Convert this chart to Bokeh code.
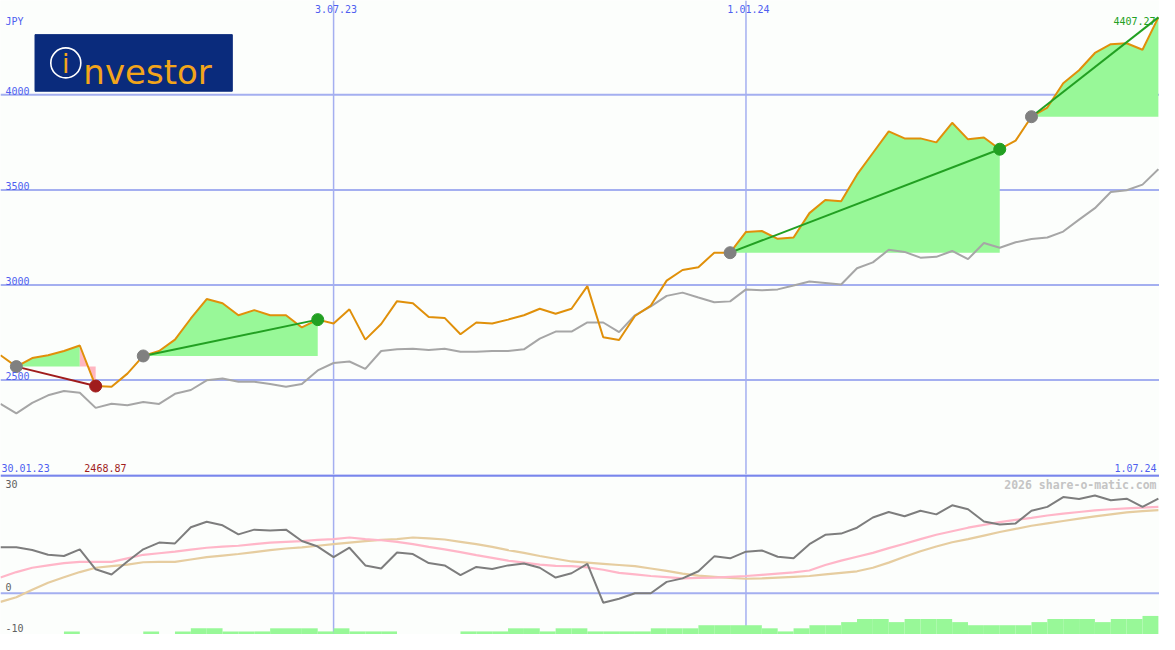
import pandas as pd
from datetime import timedelta
from bokeh.plotting import figure
from bokeh.layouts import column
from bokeh.models import Span, Label, Range1d
from bokeh.embed import file_html
from bokeh.resources import INLINE

# ---------------- data ----------------
dates = list(pd.date_range("2023-02-06", periods=74, freq="7D").to_pydatetime())

price = [2631, 2571, 2616, 2631, 2653, 2682, 2468.87, 2465, 2534, 2627,
         2653, 2713, 2824, 2926, 2904, 2841, 2868, 2841, 2841, 2777,
         2818, 2798, 2872, 2713, 2795, 2915, 2904, 2832, 2827, 2741,
         2803, 2798, 2818, 2841, 2875, 2849, 2875, 2994, 2725, 2711,
         2837, 2892, 3023, 3079, 3093, 3170, 3170, 3279, 3284, 3243,
         3250, 3378, 3447, 3441, 3580, 3694, 3808, 3771, 3771, 3750,
         3853, 3766, 3776, 3714, 3759, 3885, 3933, 4061, 4129, 4220,
         4266, 4271, 4237, 4407.27]

bench = [2375, 2325, 2380, 2420, 2443, 2434, 2354, 2376, 2368, 2385,
         2375, 2428, 2448, 2499, 2508, 2491, 2491, 2479, 2465, 2479,
         2551, 2590, 2598, 2559, 2653, 2662, 2665, 2658, 2665, 2649,
         2649, 2653, 2653, 2662, 2718, 2755, 2755, 2803, 2803, 2752,
         2841, 2888, 2943, 2960, 2934, 2909, 2914, 2977, 2972, 2977,
         2997, 3018, 3011, 3003, 3088, 3119, 3185, 3174, 3144, 3148,
         3179, 3136, 3221, 3196, 3225, 3242, 3250, 3281, 3344, 3404,
         3489, 3498, 3528, 3609]

osc = [11.7, 11.7, 11.0, 9.8, 9.5, 11.2, 6.1, 4.8, 8.1, 11.2,
       12.9, 12.7, 16.8, 18.2, 17.3, 15.0, 16.2, 16.0, 16.2, 13.3,
       11.9, 9.2, 11.6, 7.1, 6.3, 10.4, 10.0, 7.7, 7.1, 4.6,
       6.7, 6.2, 7.1, 7.6, 6.5, 4.0, 5.1, 7.5, -2.4, -1.4,
       0.0, 0.0, 2.9, 3.8, 5.6, 9.4, 8.9, 10.6, 10.9, 9.3,
       8.9, 12.5, 14.9, 15.2, 16.7, 19.3, 20.7, 19.6, 21.0, 20.1,
       22.4, 21.4, 18.3, 17.5, 17.8, 21.0, 22.0, 24.5, 24.0, 24.9,
       23.7, 24.1, 22.0, 24.1]

osc_avg_fast = [4.0, 5.4, 6.5, 7.1, 7.7, 8.0, 8.0, 8.0, 8.9, 9.8,
                10.2, 10.6, 11.1, 11.6, 11.9, 12.1, 12.5, 12.9, 13.1, 13.3,
                13.6, 13.8, 14.2, 13.8, 13.5, 13.1, 12.5, 11.8, 11.2, 10.5,
                9.7, 9.0, 8.3, 7.8, 7.3, 7.0, 6.9, 6.6, 6.0, 5.2,
                4.8, 4.4, 4.1, 3.8, 3.9, 4.0, 4.2, 4.4, 4.7, 5.0,
                5.3, 5.8, 7.2, 8.3, 9.3, 10.3, 11.5, 12.6, 13.8, 14.9,
                15.8, 16.7, 17.4, 18.1, 18.7, 19.2, 19.8, 20.3, 20.7, 21.1,
                21.4, 21.6, 21.8, 22.0]

osc_avg_slow = [-2.2, -1.0, 0.9, 2.7, 4.1, 5.4, 6.5, 6.9, 7.3, 7.9,
                8.0, 8.0, 8.6, 9.2, 9.6, 10.0, 10.5, 11.0, 11.4, 11.7,
                12.1, 12.5, 12.9, 13.3, 13.6, 13.8, 14.2, 14.0, 13.7, 13.1,
                12.5, 11.8, 11.0, 10.3, 9.5, 8.8, 8.1, 7.8, 7.5, 7.2,
                6.9, 6.3, 5.7, 5.0, 4.5, 4.2, 3.9, 3.7, 3.8, 4.0,
                4.2, 4.4, 4.8, 5.2, 5.6, 6.5, 7.8, 9.3, 10.7, 11.9,
                13.0, 13.8, 14.7, 15.6, 16.4, 17.2, 17.8, 18.4, 19.0, 19.6,
                20.1, 20.6, 20.9, 21.2]

volume = [0, 0, 0, 0, 1, 0, 0, 0, 0, 1,
          0, 1, 2, 2, 1, 1, 1, 2, 2, 2,
          1, 2, 1, 1, 1, 0, 0, 0, 0, 1,
          1, 1, 2, 2, 1, 2, 2, 1, 1, 1,
          1, 2, 2, 2, 3, 3, 3, 3, 2, 1,
          2, 3, 3, 4, 5, 5, 4, 5, 5, 5,
          4, 3, 3, 3, 3, 4, 5, 5, 5, 4,
          5, 5, 6]

buy_idx = [1, 9, 46, 65]
sell_idx = [6, 20, 63, None]   # None = still open

price_levels = [2500, 3000, 3500, 4000]
price_level_labels = ["2500", "3000", "3500", "4000"]
osc_levels = [0]
date_lines = ["2023-07-03", "2024-01-01"]
date_line_labels = ["3.07.23", "1.01.24"]
start_label, end_label = "30.01.23", "1.07.24"
currency = "JPY"
min_label = "2468.87"
last_label = "4407.27"
osc_labels = ["30", "0", "-10"]
osc_label_values = [30, 0, -10]
credit = "2026 share-o-matic.com"

# ---------------- styling ----------------
BG = "#fcfefc"
GRID = "#a4aff0"
SEP = "#7886ec"
BLUE_TXT = "#4f5ff0"
ORANGE = "#e0900a"
BENCH = "#a6a6a6"
GAIN_FILL = "#98f898"
LOSS_FILL = "#ffb6c1"
GAIN = "#22a022"
LOSS = "#a01c1c"
BUYC = "#808080"
MONO = "DejaVu Sans Mono"

W = 1159
REF_W, REF_H = 1175, 650
SPLIT = 486
SY = 634 / REF_H
H1 = round(SPLIT * SY)
H2 = 634 - H1

x_start = dates[0]
x_end = dates[-1] + timedelta(hours=12)
xr = Range1d(x_start, x_end)
X0 = pd.Timestamp(x_start).timestamp() * 1000
X1 = pd.Timestamp(x_end).timestamp() * 1000

Y1_TOP, Y1_BOT = 4496.0, 2003.7
Y2_TOP, Y2_BOT = 30.25, -10.5


def xpx(px):
    return X0 + px / REF_W * (X1 - X0)


def ypx1(py):
    return Y1_TOP - py / SPLIT * (Y1_TOP - Y1_BOT)


def ypx2(py):
    return Y2_TOP - (py - SPLIT) / (REF_H - SPLIT) * (Y2_TOP - Y2_BOT)


def ms(d):
    return pd.Timestamp(d).timestamp() * 1000


def common(fig):
    fig.background_fill_color = BG
    fig.border_fill_color = BG
    fig.outline_line_color = None
    fig.min_border = 0
    fig.xgrid.visible = False
    fig.ygrid.visible = False


# ---------------- main panel ----------------
p1 = figure(width=W, height=H1, x_range=xr, y_range=Range1d(Y1_BOT, Y1_TOP),
            x_axis_type="datetime", x_axis_location=None, y_axis_location=None,
            toolbar_location=None, output_backend="svg")
common(p1)

for v in price_levels:
    p1.add_layout(Span(location=v, dimension="width", line_color=GRID,
                       line_width=2, level="underlay"))
for d in date_lines:
    p1.add_layout(Span(location=ms(d), dimension="height", line_color=GRID,
                       line_width=1.5, level="underlay"))

# trade fills
end_idx = [s if s is not None else len(price) - 1 for s in sell_idx]
for b, e in zip(buy_idx, end_idx):
    bp = price[b]
    k = b
    while k < e:
        up = price[k + 1] >= bp
        j = k
        while j < e and (price[j + 1] >= bp) == up:
            j += 1
        p1.varea(x=dates[k:j + 1], y1=[bp] * (j - k + 1), y2=price[k:j + 1],
                 fill_color=GAIN_FILL if up else LOSS_FILL, fill_alpha=1)
        k = j

p1.line(dates, bench, line_color=BENCH, line_width=2)
p1.line(dates, price, line_color=ORANGE, line_width=2)

for b, s, e in zip(buy_idx, sell_idx, end_idx):
    col = GAIN if price[e] >= price[b] else LOSS
    p1.line([dates[b], dates[e]], [price[b], price[e]], line_color=col, line_width=2)
p1.scatter([dates[b] for b in buy_idx], [price[b] for b in buy_idx],
           size=12, marker="circle", fill_color=BUYC, line_color=BUYC)
closed = [(b, s) for b, s in zip(buy_idx, sell_idx) if s is not None]
p1.scatter([dates[s] for b, s in closed], [price[s] for b, s in closed],
           size=12, marker="circle",
           fill_color=[GAIN if price[s] >= price[b] else LOSS for b, s in closed],
           line_color=[GAIN if price[s] >= price[b] else LOSS for b, s in closed])

# logo
p1.quad(left=[xpx(35)], right=[xpx(235)], top=[ypx1(35)], bottom=[ypx1(93)],
        fill_color="#0a2b7c", line_color="#0a2b7c")
p1.scatter([xpx(66.2)], [ypx1(64)], size=30, marker="circle",
           fill_color=None, line_color="white", line_width=1.6)
p1.add_layout(Label(x=xpx(66.2), y=ypx1(64.5), text="i", text_align="center",
                    text_baseline="middle", text_font="DejaVu Sans",
                    text_font_size="27px", text_color="#f3a51a"))
p1.add_layout(Label(x=xpx(84), y=ypx1(73), text="nvestor", text_align="left",
                    text_baseline="alphabetic", text_font="DejaVu Sans",
                    text_font_size="34px", text_color="#f3a51a"))


def lab(fig, x, y, text, color, align="left", base="middle", size="10px",
        style="normal", font=MONO):
    fig.add_layout(Label(x=x, y=y, text=text, text_align=align, text_baseline=base,
                         text_font=font, text_font_size=size, text_color=color,
                         text_font_style=style))


lab(p1, xpx(5), ypx1(21.5), currency, BLUE_TXT)
for v, t in zip(price_levels, price_level_labels):
    lab(p1, xpx(5), v, t, BLUE_TXT, base="bottom")
for d, t in zip(date_lines, date_line_labels):
    lab(p1, ms(d) + (xpx(2.5) - X0), ypx1(8.5), t, BLUE_TXT, align="center")
lab(p1, xpx(1), ypx1(479), start_label, BLUE_TXT)
lab(p1, xpx(85), ypx1(479), min_label, LOSS)
lab(p1, xpx(1172), ypx1(479), end_label, BLUE_TXT, align="right")
lab(p1, xpx(1171), ypx1(21), last_label, GAIN, align="right")

# ---------------- oscillator panel ----------------
p2 = figure(width=W, height=H2, x_range=xr, y_range=Range1d(Y2_BOT, Y2_TOP),
            x_axis_type="datetime", x_axis_location=None, y_axis_location=None,
            toolbar_location=None, output_backend="svg")
common(p2)
p2.extra_y_ranges = {"vol": Range1d(0, 51.7)}

for v in osc_levels:
    p2.add_layout(Span(location=v, dimension="width", line_color=GRID,
                       line_width=2, level="underlay"))
for d in date_lines:
    p2.add_layout(Span(location=ms(d), dimension="height", line_color=GRID,
                       line_width=1.5, level="underlay"))
p2.add_layout(Span(location=30, dimension="width", line_color=SEP, line_width=2.5))

p2.quad(left=dates[:-1], right=dates[1:], bottom=0, top=volume,
        fill_color=GAIN_FILL, line_color=None, y_range_name="vol")
p2.line(dates, osc_avg_slow, line_color="#e6cda0", line_width=2.2)
p2.line(dates, osc_avg_fast, line_color="#ffb6c8", line_width=2.2)
p2.line(dates, osc, line_color="#7d7d7d", line_width=2)

lab(p2, xpx(5), ypx2(496), osc_labels[0], "#606060")
lab(p2, xpx(5), ypx2(601.5), osc_labels[1], "#606060")
lab(p2, xpx(5), ypx2(643), osc_labels[2], "#606060")
lab(p2, xpx(1172), ypx2(496.5), credit, "#c4c4c4", align="right", size="11.5px",
    style="bold")

layout = column(p1, p2, spacing=0)
open("out.html", "w").write(file_html(layout, INLINE))
